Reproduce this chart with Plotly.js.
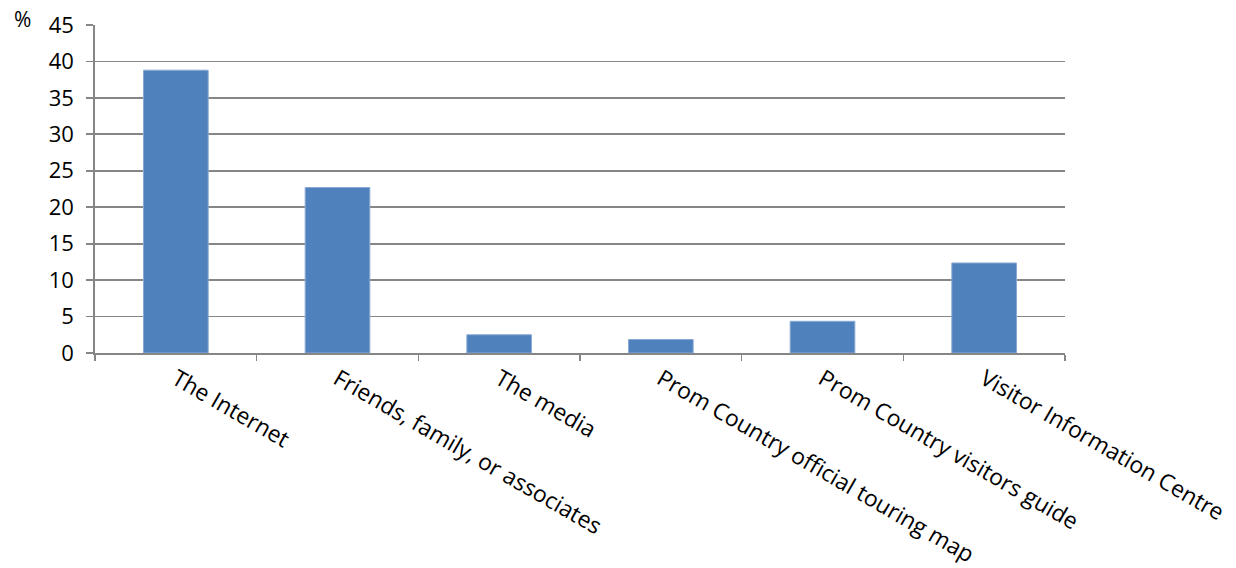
<!DOCTYPE html>
<html>
<head>
<meta charset="utf-8">
<script src="https://cdn.plot.ly/plotly-3.0.1.min.js"></script>
<style>html,body{margin:0;padding:0;background:#fff;}#chart{width:1236px;height:568px;}</style>
</head>
<body>
<div id="chart"></div>
<script>
const categories = ["The Internet", "Friends, family, or associates", "The media", "Prom Country official touring map", "Prom Country visitors guide", "Visitor Information Centre"];
const values = [38.8, 22.7, 2.5, 1.85, 4.35, 12.35];
const yTicks = [0, 5, 10, 15, 20, 25, 30, 35, 40, 45];

const trace = {
  type: "bar",
  x: categories,
  y: values,
  marker: {color: "#4F81BD", line: {color: "#8AAAD6", width: 1}},
  hoverinfo: "x+y"
};

const FONT = "Open Sans, Noto Sans, sans-serif";

const layout = {
  width: 1236,
  height: 568,
  margin: {l: 95, r: 171, t: 25, b: 214.5},
  paper_bgcolor: "#ffffff",
  plot_bgcolor: "#ffffff",
  font: {family: FONT, size: 22, color: "#000000"},
  bargap: 0.6,
  showlegend: false,
  xaxis: {
    type: "category",
    tickangle: 30,
    tickson: "boundaries",
    ticks: "outside",
    ticklen: 6,
    tickwidth: 1.5,
    tickcolor: "#868686",
    showline: true,
    linecolor: "#868686",
    linewidth: 1.8,
    showgrid: false,
    ticklabelstandoff: 2,
    tickfont: {family: FONT, size: 22.8, color: "#000"}
  },
  yaxis: {
    range: [0, 45],
    tickvals: yTicks,
    ticktext: yTicks.map(String),
    ticks: "outside",
    ticklen: 7,
    tickwidth: 1.8,
    tickcolor: "#868686",
    showline: true,
    linecolor: "#868686",
    linewidth: 1.8,
    showgrid: true,
    gridcolor: "#868686",
    gridwidth: 1.8,
    zeroline: false,
    ticklabelstandoff: 8,
    tickfont: {family: FONT, size: 22, color: "#000"}
  },
  annotations: [{
    text: "%",
    xref: "paper", yref: "paper",
    x: -0.064, y: 1.018,
    xanchor: "right", yanchor: "middle",
    showarrow: false,
    font: {family: FONT, size: 21, color: "#000"}
  }]
};

Plotly.newPlot("chart", [trace], layout, {displayModeBar: false, staticPlot: true});
</script>
</body>
</html>
